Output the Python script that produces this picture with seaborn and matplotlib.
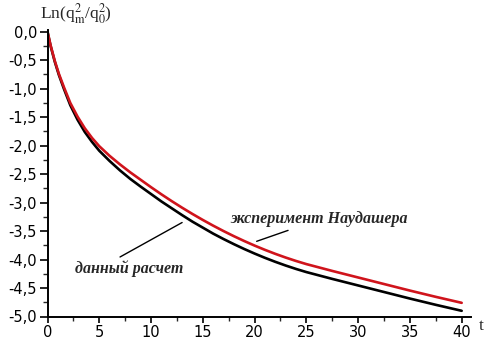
import numpy as np
import pandas as pd
import matplotlib
matplotlib.use("Agg")
import matplotlib.pyplot as plt
import seaborn as sns
from matplotlib.ticker import MultipleLocator

# ---- data ----
t_vals = [0, 0.3, 0.7, 1.1, 1.6, 2.2, 2.9, 3.6, 4.3, 5, 6, 7, 8, 9, 10, 11,
          12, 13, 14, 15, 16, 17, 18, 19, 20, 21, 22, 23, 24, 25, 27.5, 30,
          32.5, 35, 37.5, 40]
experiment = [0, -0.24, -0.51, -0.74, -0.98, -1.25, -1.49, -1.695, -1.865,
              -2.01, -2.18, -2.33, -2.47, -2.60, -2.73, -2.855, -2.975,
              -3.09, -3.20, -3.305, -3.405, -3.50, -3.59, -3.675, -3.755,
              -3.83, -3.90, -3.965, -4.025, -4.08, -4.20, -4.315, -4.43,
              -4.545, -4.655, -4.76]
calculation = [0, -0.25, -0.525, -0.76, -1.01, -1.29, -1.545, -1.76, -1.935,
               -2.09, -2.27, -2.435, -2.585, -2.72, -2.85, -2.98, -3.10,
               -3.22, -3.335, -3.44, -3.545, -3.64, -3.73, -3.815, -3.895,
               -3.97, -4.04, -4.105, -4.165, -4.22, -4.34, -4.455, -4.57,
               -4.685, -4.795, -4.90]
x_ticks = [0, 5, 10, 15, 20, 25, 30, 35, 40]
x_tick_labels = ["0", "5", "10", "15", "20", "25", "30", "35", "40"]
y_ticks = [0.0, -0.5, -1.0, -1.5, -2.0, -2.5, -3.0, -3.5, -4.0, -4.5, -5.0]
y_tick_labels = ["0,0", "-0,5", "-1,0", "-1,5", "-2,0", "-2,5", "-3,0",
                 "-3,5", "-4,0", "-4,5", "-5,0"]
label_exp = "эксперимент Наудашера"
label_calc = "данный расчет"

sns.set_style("ticks")
plt.rcParams["font.family"] = ["DejaVu Sans"]
plt.rcParams["axes.unicode_minus"] = False
plt.rcParams["mathtext.fontset"] = "stix"

df = pd.DataFrame({
    "t": t_vals * 2,
    "v": experiment + calculation,
    "s": [label_exp] * len(t_vals) + [label_calc] * len(t_vals),
})

fig = plt.figure(figsize=(4.9, 3.42), dpi=100)
ax = fig.add_axes([47.5 / 490, 25.5 / 342, (471 - 47.5) / 490, (316.5 - 30) / 342])

sns.lineplot(data=df, x="t", y="v", hue="s",
             palette={label_exp: "#d0141c", label_calc: "#000000"},
             hue_order=[label_calc, label_exp],
             linewidth=1.9, legend=False, ax=ax, estimator=None, sort=False)

ax.set_xlim(0, 40.9)
ax.set_ylim(-5.0, 0.03)
ax.set_xticks(x_ticks)
ax.set_xticklabels(x_tick_labels)
ax.set_yticks(y_ticks)
ax.set_yticklabels(y_tick_labels)
ax.xaxis.set_minor_locator(MultipleLocator(2.5))
ax.yaxis.set_minor_locator(MultipleLocator(0.25))
ax.tick_params(axis="both", which="major", direction="out", width=1.2,
               labelsize=10.5, colors="black")
ax.tick_params(axis="x", which="major", length=4, pad=2)
ax.tick_params(axis="y", which="major", length=6, pad=1.5)
ax.tick_params(axis="x", which="minor", direction="out", length=3, width=1.0)
ax.tick_params(axis="y", which="minor", direction="out", length=3.5, width=1.0)
for side in ["top", "right"]:
    ax.spines[side].set_visible(False)
for side in ["left", "bottom"]:
    ax.spines[side].set_linewidth(1.4)
    ax.spines[side].set_color("black")
ax.set_xlabel("")
ax.set_ylabel("")

serif = ["Liberation Serif", "DejaVu Serif"]
fig.text(40 / 490, 1 - 14 / 342, r"Ln(q$_{\mathrm{m}}^{2}$/q$_{0}^{2}$)",
         family=serif, fontsize=12.5, ha="left", va="center")
fig.text(481 / 490, 1 - 326 / 342, "t", family=serif, fontsize=12.5,
         ha="center", va="center")

ax.annotate(label_exp, xy=(20.2, -3.68), xytext=(26.2, -3.29),
            family=serif, fontsize=11.5, fontweight="bold", style="italic",
            ha="center", va="center",
            arrowprops=dict(arrowstyle="-", color="black", lw=1.0,
                            shrinkA=0, shrinkB=0,
                            relpos=(0.38, 0.0)))
ax.annotate(label_calc, xy=(13.0, -3.35), xytext=(7.9, -4.16),
            family=serif, fontsize=11.5, fontweight="bold", style="italic",
            ha="center", va="center",
            arrowprops=dict(arrowstyle="-", color="black", lw=1.0,
                            shrinkA=0, shrinkB=0,
                            relpos=(0.36, 1.0)))

fig.savefig("out.png", dpi=100)
